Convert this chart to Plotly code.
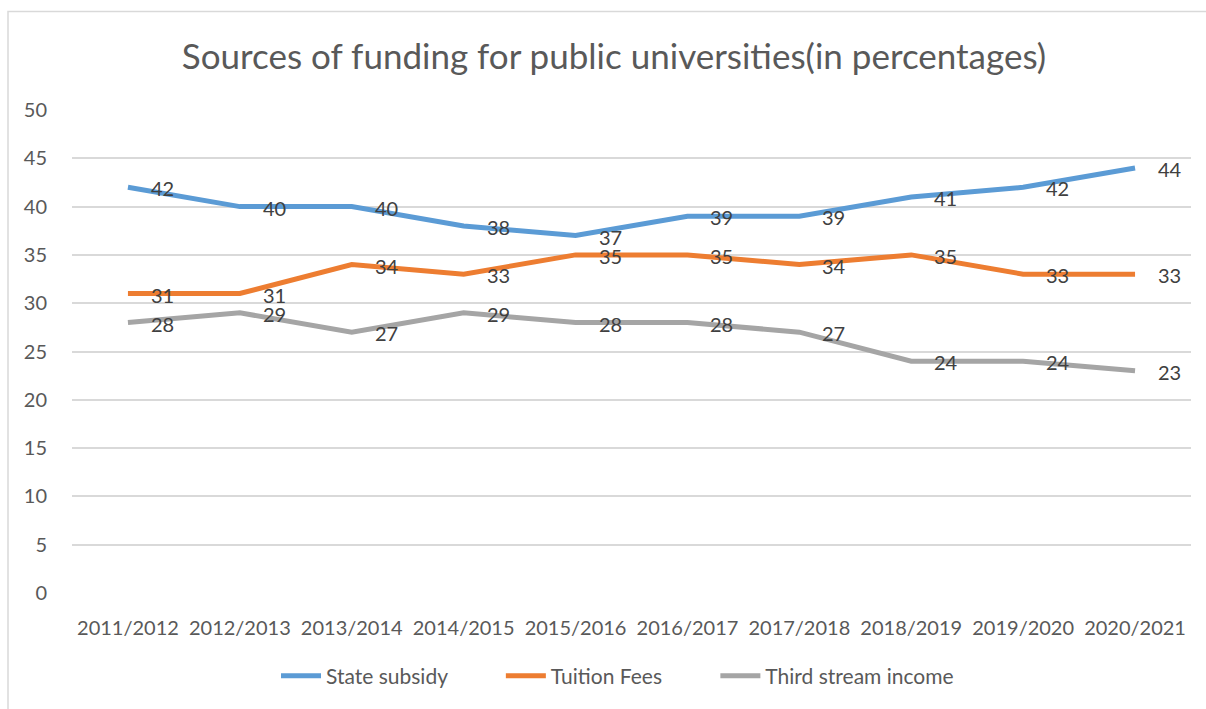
import plotly.graph_objects as go

years = ["2011/2012", "2012/2013", "2013/2014", "2014/2015", "2015/2016",
         "2016/2017", "2017/2018", "2018/2019", "2019/2020", "2020/2021"]
state_subsidy = [42, 40, 40, 38, 37, 39, 39, 41, 42, 44]
tuition_fees = [31, 31, 34, 33, 35, 35, 34, 35, 33, 33]
third_stream = [28, 29, 27, 29, 28, 28, 27, 24, 24, 23]

series = [
    ("State subsidy", state_subsidy, "#5B9BD5", 9),
    ("Tuition Fees", tuition_fees, "#ED7D31", 9),
    ("Third stream income", third_stream, "#A5A5A5", 0),
]

FONT = "Lato"
fig = go.Figure()
annotations = []
for name, vals, color, pad in series:
    fig.add_trace(go.Scatter(
        x=years, y=vals, name=name + "\u00a0" * pad, mode="lines",
        line=dict(color=color, width=5),
    ))
    for x, v in zip(years, vals):
        annotations.append(dict(
            x=x, y=v, xref="x", yref="y", text=str(v), showarrow=False,
            xanchor="left", yanchor="middle", xshift=21, yshift=-1,
            font=dict(family=FONT, size=20, color="#404040"),
        ))

fig.update_layout(
    width=1206, height=709,
    margin=dict(l=72, r=15, t=110, b=114),
    paper_bgcolor="white", plot_bgcolor="white",
    title=dict(text="Sources of funding for public universities(in percentages)",
               x=614 / 1206, xanchor="center", xref="container", y=1 - 57 / 709, yanchor="middle",
               font=dict(family=FONT, size=35, color="#595959")),
    xaxis=dict(type="category", range=[-0.5, 9.5], showgrid=False, zeroline=False,
               showline=False, ticks="outside", ticklen=17, tickcolor="rgba(0,0,0,0)",
               tickfont=dict(family=FONT, size=20, color="#595959")),
    yaxis=dict(range=[0, 50], dtick=5, showgrid=True, gridcolor="#D9D9D9", gridwidth=1.5,
               zeroline=False, showline=False, ticks="outside", ticklen=20,
               tickcolor="rgba(0,0,0,0)",
               tickfont=dict(family=FONT, size=20, color="#595959")),
    legend=dict(orientation="h", x=0.4875, xanchor="center", y=-0.172, yanchor="middle",
                font=dict(family=FONT, size=21, color="#595959"), itemwidth=40,
                traceorder="normal"),
    showlegend=True,
    annotations=annotations,
)
fig.add_shape(type="rect", xref="paper", yref="paper",
              x0=-64 / 1119, x1=1.03, y0=-0.27, y1=584 / 485,
              line=dict(color="#D9D9D9", width=1.5), layer="below")

fig.write_html("out.html")
